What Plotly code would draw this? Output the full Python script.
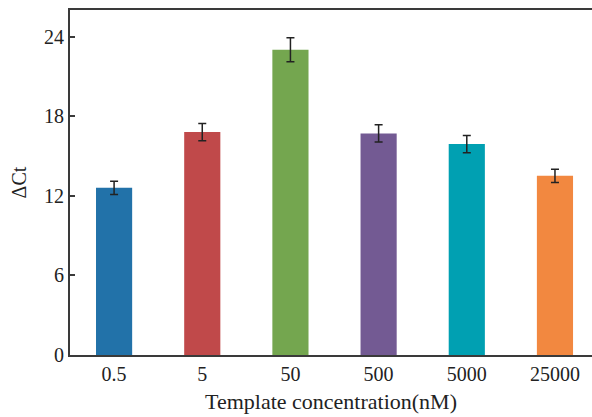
import plotly.graph_objects as go

categories = ["0.5", "5", "50", "500", "5000", "25000"]
values = [12.6, 16.8, 23.0, 16.7, 15.9, 13.5]
errors = [0.5, 0.65, 0.9, 0.65, 0.65, 0.5]
colors = ["#2272a9", "#c0494a", "#74a64f", "#735a93", "#00a0b2", "#f28840"]
y_ticks = [0, 6, 12, 18, 24]

font_family = "Liberation Serif, DejaVu Serif, serif"
axis_color = "#3a3a3a"

fig = go.Figure(
    go.Bar(
        x=list(range(len(categories))),
        y=values,
        marker=dict(color=colors, line=dict(width=0)),
        width=0.41,
        error_y=dict(type="data", array=errors, visible=True,
                     color="#222222", thickness=1.5, width=4),
    )
)

fig.update_layout(
    width=592,
    height=417,
    margin=dict(l=70, r=0, t=10, b=62, autoexpand=False),
    plot_bgcolor="white",
    paper_bgcolor="white",
    showlegend=False,
    font=dict(family=font_family, size=20, color="#222222"),
    xaxis=dict(
        range=[-0.5, 5.42],
        tickmode="array",
        tickvals=list(range(len(categories))),
        ticktext=categories,
        ticks="",
        showgrid=False,
        zeroline=False,
        showline=True,
        linecolor=axis_color,
        linewidth=2,
        mirror=True,
        automargin=False,
        title=dict(text="Template concentration(nM)", font=dict(size=22), standoff=10),
        tickfont=dict(size=20),
    ),
    yaxis=dict(
        range=[0, 26],
        tickmode="array",
        tickvals=y_ticks,
        ticks="inside",
        ticklen=5,
        tickcolor=axis_color,
        tickwidth=1.5,
        showgrid=False,
        zeroline=False,
        showline=True,
        linecolor=axis_color,
        linewidth=2,
        automargin=False,
        title=dict(text="ΔCt", font=dict(size=20), standoff=12),
        tickfont=dict(size=20),
    ),
)

fig.write_html(
    "out.html",
    config={"displayModeBar": False},
    post_script="document.body.style.margin='0';document.body.style.overflow='hidden';",
)
